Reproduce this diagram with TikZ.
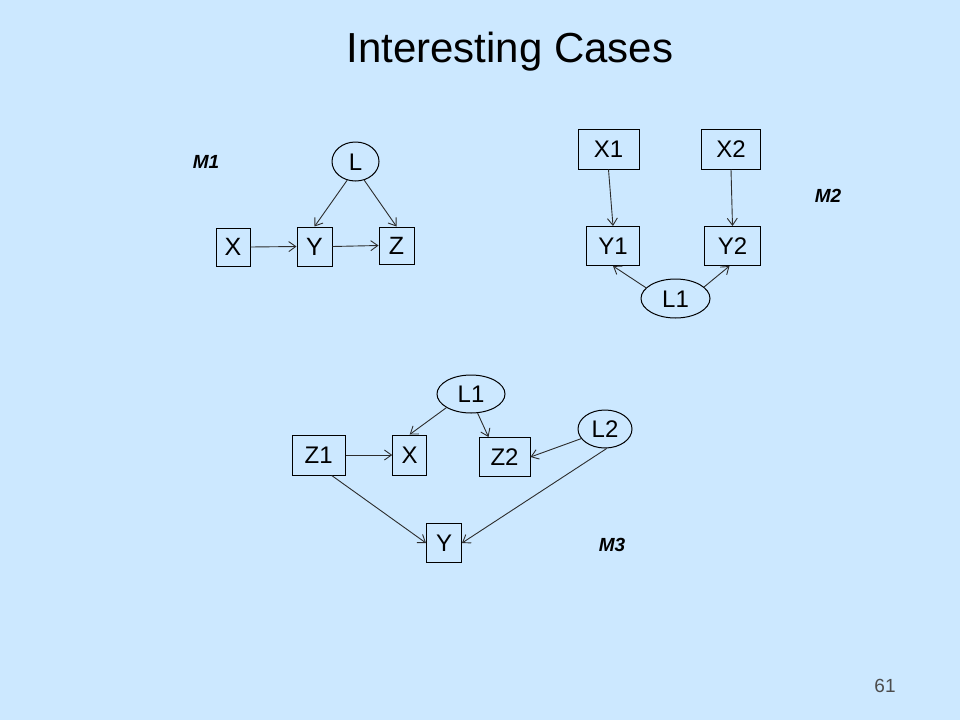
\documentclass[tikz,border=0pt]{standalone}
\usepackage{fontspec}
\setmainfont{Liberation Sans}
\usetikzlibrary{arrows.meta,shapes.geometric}
\definecolor{bg}{RGB}{204,232,255}
\definecolor{ln}{RGB}{45,45,45}
\begin{document}
\begin{tikzpicture}[x=1pt,y=-1pt,
  box/.style={draw=black,line width=1pt,rectangle,inner sep=0pt,text height=17pt,text depth=0pt,font=\fontsize{24}{24}\selectfont},
  bigbox/.style={box,font=\fontsize{25}{25}\selectfont},
  lat/.style={draw=black,line width=1pt,ellipse,inner sep=0pt,text height=17pt,text depth=0pt,font=\fontsize{24}{24}\selectfont},
  arr/.style={draw=ln,line width=0.9pt,-{Straight Barb[length=7pt,width=10pt]}},
  lab/.style={font=\fontsize{19}{19}\selectfont\bfseries\itshape}]
\fill[bg] (0,0) rectangle (960,720);
\useasboundingbox (0,0) rectangle (960,720);

\node[anchor=base,font=\fontsize{42}{42}\selectfont] (title) at (510,62) {Interesting Cases};
\node[font=\fontsize{19}{19}\selectfont,text=black!70] (pg) at (885,686) {61};

% M1
\node[lab] (m1) at (206,162) {M1};
\node[lat,minimum width=47pt,minimum height=39pt] (L) at (355.5,161.5) {L};
\node[bigbox,minimum width=34pt,minimum height=38pt] (X) at (233,247) {X};
\node[bigbox,minimum width=35pt,minimum height=39pt] (Y) at (314.5,246.5) {Y};
\node[bigbox,minimum width=35pt,minimum height=37pt] (Z) at (396.5,245.5) {Z};
\draw[arr] (X.east) -- (Y.west);
\draw[arr] (Y.east) -- (Z.west);
\draw[arr] (L.246) -- (Y.north);
\draw[arr] (L.295) -- (Z.north);

% M2
\node[lab] (m2) at (828,196) {M2};
\node[box,minimum width=61pt,minimum height=40pt] (X1) at (608.5,149) {X1};
\node[box,minimum width=59pt,minimum height=40pt] (X2) at (731,149) {X2};
\node[box,minimum width=53pt,minimum height=39pt] (Y1) at (613,246) {Y1};
\node[box,minimum width=56pt,minimum height=39pt] (Y2) at (732.5,246) {Y2};
\node[lat,minimum width=69pt,minimum height=39pt] (L1) at (675.5,298.5) {L1};
\draw[arr] (X1.south) -- (Y1.north);
\draw[arr] (X2.south) -- (Y2.north);
\draw[arr] (L1.160) -- (Y1.south);
\draw[arr] (L1.22) -- ([xshift=-3pt]Y2.south);

% M3
\node[lab] (m3) at (612,545) {M3};
\node[lat,minimum width=68pt,minimum height=38pt] (La) at (471,394) {L1};
\node[lat,minimum width=54pt,minimum height=38pt] (Lb) at (605,429) {L2};
\node[box,minimum width=53pt,minimum height=40pt] (Z1) at (318.7,455) {Z1};
\node[box,minimum width=34pt,minimum height=40pt] (Xm) at (409.7,455) {X};
\node[box,minimum width=51pt,minimum height=39pt] (Z2) at (504.5,457) {Z2};
\node[box,minimum width=35pt,minimum height=39pt] (Ym) at (444,543) {Y};
\draw[arr] (Z1.east) -- (Xm.west);
\draw[arr] (La.209) -- (Xm.north);
\draw[arr] (La.289) -- ([xshift=10pt]Z2.north west);
\draw[arr] (Lb.202) -- (Z2.east);
\draw[arr] (Lb.275) -- (Ym.east);
\draw[arr] ([xshift=13pt]Z1.south) -- (Ym.west);
\end{tikzpicture}
\end{document}
